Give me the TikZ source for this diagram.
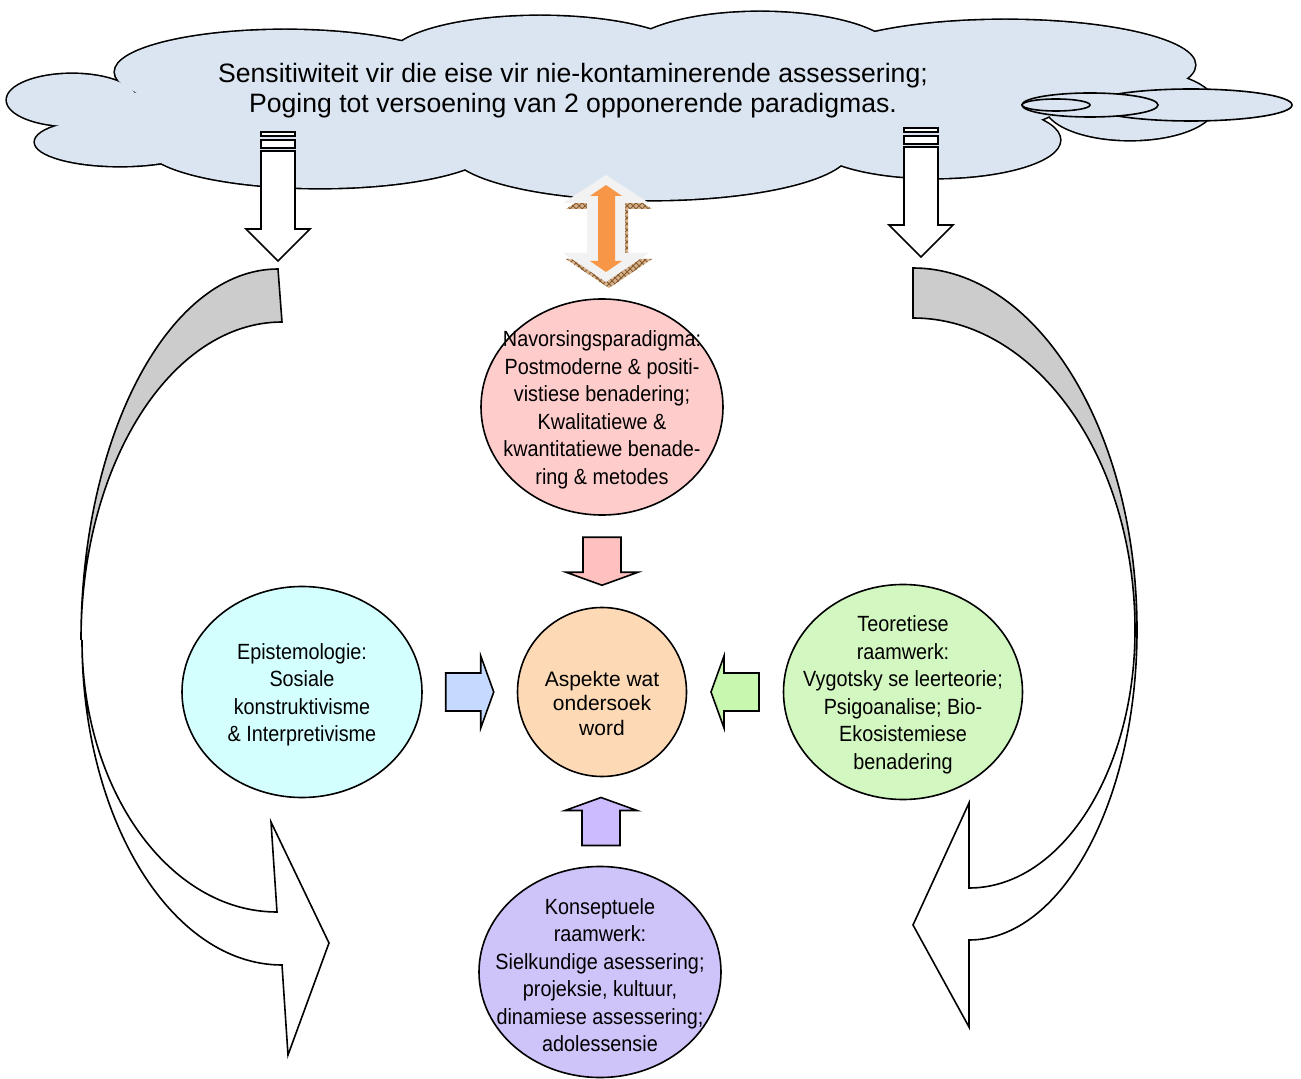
\documentclass[tikz,border=0pt]{standalone}
\usepackage{fontspec}
\setmainfont{Liberation Sans}
\newfontfamily\narrowsans[FakeStretch=0.9]{Liberation Sans}
\usetikzlibrary{shapes.geometric,calc,patterns}

\definecolor{cloudfill}{RGB}{219,229,241}
\definecolor{pinkfill}{RGB}{255,204,204}
\definecolor{peachfill}{RGB}{253,217,181}
\definecolor{cyanfill}{RGB}{212,255,255}
\definecolor{greenfill}{RGB}{211,247,192}
\definecolor{lilacfill}{RGB}{207,196,249}
\definecolor{pinkarrow}{RGB}{255,192,192}
\definecolor{bluearrow}{RGB}{198,217,255}
\definecolor{greenarrow}{RGB}{200,248,176}
\definecolor{purplearrow}{RGB}{204,187,255}
\definecolor{bandgrey}{RGB}{204,204,204}
\definecolor{liftgrey}{RGB}{242,242,242}
\definecolor{liftorange}{RGB}{247,150,70}
\definecolor{lifttan}{RGB}{214,178,140}

\tikzstyle{cloudline} = [draw=black,line width=1.6pt,fill=cloudfill]
\tikzstyle{tailline} = [draw=black,line width=0.8pt,fill=cloudfill]
\tikzstyle{cloudtext} = [align=center,inner sep=0pt,yshift=-1.5pt,font=\fontsize{13.3}{15}\selectfont]
\tikzstyle{bubble} = [ellipse,draw,line width=0.8pt,inner sep=0pt]
\tikzstyle{bubbletext} = [align=center,inner sep=0pt,yshift=-1.5pt,font=\narrowsans\fontsize{11}{13.75}\selectfont]
\tikzstyle{coretext} = [align=center,inner sep=0pt,font=\fontsize{10.5}{12.25}\selectfont]
\tikzstyle{blockarrow} = [draw,line width=0.8pt,line join=miter]
\tikzstyle{hollowarrow} = [draw,line width=0.8pt,fill=white,line join=miter]
\tikzstyle{bandback} = [draw,line width=0.8pt,fill=bandgrey]
\tikzstyle{bandfront} = [draw,line width=0.8pt,fill=white,line join=miter]
\tikzstyle{liftshadow} = [fill=lifttan,postaction={pattern=crosshatch,pattern color=brown!70!black}]

\def\cloudlobes{285/72/170/42, 540/58/150/42, 760/55/135/43, 1005/65/190/45,
  1130/105/85/35, 935/140/125/38, 650/150/200/50, 320/145/175/43,
  120/142/85/24, 72/100/65/26, 620/105/440/50, 200/110/90/25}

\begin{document}
\begin{tikzpicture}[x=0.5pt,y=-0.5pt]
    \useasboundingbox (0,0) rectangle (1301,1079);
    \fill[white] (0,0) rectangle (1301,1079);

    %% cloud
    \foreach \cx/\cy/\rx/\ry in \cloudlobes
      \draw[cloudline] (\cx,\cy) ellipse [x radius=\rx, y radius=\ry];
    \foreach \cx/\cy/\rx/\ry in \cloudlobes
      \fill[cloudfill] (\cx,\cy) ellipse [x radius=\rx, y radius=\ry];
    \foreach \cx/\rx/\ry in {1191/101/16, 1090/68/12, 1056/34/6}
      \draw[tailline] (\cx,105) ellipse [x radius=\rx, y radius=\ry];
    \node[cloudtext] (cloud) at (573,88)
      {Sensitiwiteit vir die eise vir nie-kontaminerende assessering;\\
       Poging tot versoening van 2 opponerende paradigmas.};

    %% arrows out of the cloud
    \foreach \x/\t in {278/132, 921/128}
    {
      \draw[hollowarrow] (\x-17,\t) rectangle (\x+17,\t+4);
      \draw[hollowarrow] (\x-17,\t+8) rectangle (\x+17,\t+16);
      \draw[hollowarrow] (\x-17,\t+19) -- (\x+17,\t+19) -- (\x+17,\t+97)
        -- (\x+32,\t+97) -- (\x,\t+129) -- (\x-32,\t+97) -- (\x-17,\t+97) -- cycle;
    }
    % double arrow under the cloud
    \fill[liftshadow,shift={(3,6)}] (606,175) -- (649,203) -- (625,203) -- (625,253)
      -- (649,253) -- (606,282) -- (563,253) -- (587,253) -- (587,203) -- (563,203) -- cycle;
    \fill[liftgrey] (606,175) -- (649,203) -- (625,203) -- (625,253)
      -- (649,253) -- (606,282) -- (563,253) -- (587,253) -- (587,203) -- (563,203) -- cycle;
    \fill[liftorange] (606,185) -- (622,196) -- (615,196) -- (615,261)
      -- (622,261) -- (606,272) -- (590,261) -- (598,261) -- (598,196) -- (590,196) -- cycle;

    %% curved arrows
    \draw[bandback] (278,269) arc[start angle=270, end angle=180, x radius=197, y radius=371]
      arc[start angle=180, end angle=270, x radius=201, y radius=318] -- cycle;
    \draw[bandfront] (82,640) arc[start angle=180, end angle=90, x radius=195, y radius=272]
      -- (271,822) -- (329,943) -- (288,1055) -- (282,965)
      arc[start angle=90, end angle=180, x radius=200, y radius=325] -- cycle;
    \draw[bandback] (913,268) arc[start angle=270, end angle=360, x radius=224, y radius=362]
      -- (1135,630) arc[start angle=360, end angle=270, x radius=222, y radius=312] -- cycle;
    \draw[bandfront] (1135,630) arc[start angle=0, end angle=90, x radius=166, y radius=258]
      -- (969,803) -- (913,925) -- (969,1027) -- (969,940)
      arc[start angle=90, end angle=0, x radius=168, y radius=310] -- cycle;

    %% nodes
    \foreach \nodename/\x/\y/\w/\h/\color in {
      nav/602/407/121/108/pinkfill,
      asp/602/692/84.5/84.5/peachfill,
      epi/302/692/120/105.5/cyanfill,
      teo/903/692/119.5/107.5/greenfill,
      kon/600/972/121/105.5/lilacfill}
    {
      \node[bubble, fill=\color, minimum width=\w pt, minimum height=\h pt] (\nodename) at (\x,\y) {};
    }
    \node[bubbletext] (navtext) at (nav) {Navorsingsparadigma:\\Postmoderne \& positi-\\vistiese benadering;\\Kwalitatiewe \&\\kwantitatiewe benade-\\ring \& metodes};
    \node[coretext, yshift=-5.5pt] (asptext) at (asp) {Aspekte wat\\ondersoek\\word};
    \node[bubbletext] (epitext) at (epi) {Epistemologie:\\Sosiale\\konstruktivisme\\\& Interpretivisme};
    \node[bubbletext] (teotext) at (teo) {Teoretiese\\raamwerk:\\Vygotsky se leerteorie;\\Psigoanalise; Bio-\\Ekosistemiese\\benadering};
    \node[bubbletext] (kontext) at (kon) {Konseptuele\\raamwerk:\\Sielkundige asessering;\\projeksie, kultuur,\\dinamiese assessering;\\adolessensie};

    %% block arrows into the centre
    \foreach \from/\to/\angle/\color in {
      nav.south/asp.north/0/pinkarrow, epi.east/asp.west/90/bluearrow,
      teo.west/asp.east/-90/greenarrow, kon.north/asp.south/180/purplearrow}
    {
      \draw[blockarrow, fill=\color, shift={($(\from)!0.5!(\to)$)}, rotate=\angle]
        (-19,-24) -- (19,-24) -- (19,11) -- (36,11) -- (0,24) -- (-36,11) -- (-19,11) -- cycle;
    }
\end{tikzpicture}
\end{document}
